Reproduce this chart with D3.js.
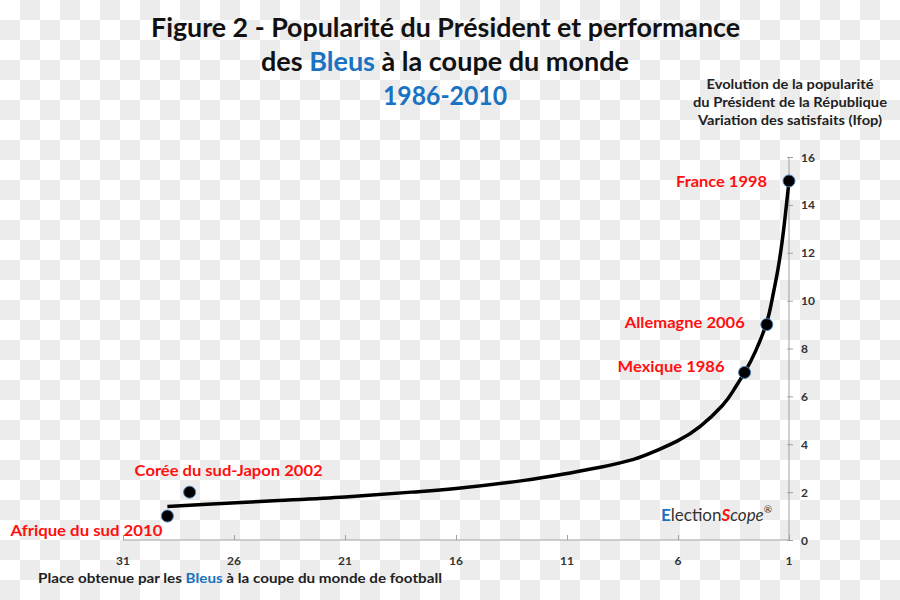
<!DOCTYPE html>
<html><head><meta charset="utf-8">
<script src="https://cdn.jsdelivr.net/npm/d3@7"></script>
<style>body{margin:0;background:#fff}svg{display:block}text{font-family:Lato,"Open Sans",sans-serif}</style>
</head><body>
<svg id="c" width="900" height="600"></svg>
<script>
// Data
const places = [1, 2, 3, 28, 29];
const popularity = [15, 9, 7, 2, 1];
const labels = ["France 1998", "Allemagne 2006", "Mexique 1986", "Corée du sud-Japon 2002", "Afrique du sud 2010"];
// trend curve
const trendX = [29, 27, 24, 21, 18, 16, 13, 11, 9.5, 8, 7, 6, 5, 4, 3.5, 3, 2.5, 2, 1.75, 1.5, 1.25, 1];
const trendY = [1.4, 1.5, 1.65, 1.8, 2.0, 2.15, 2.48, 2.78, 3.04, 3.37, 3.72, 4.15, 4.75, 5.62, 6.25, 7.0, 7.9, 9.1, 10.1, 11.3, 12.9, 15];
const xTicks = [31, 26, 21, 16, 11, 6, 1];
const yTicks = [0, 2, 4, 6, 8, 10, 12, 14, 16];

const svg = d3.select("#c");
// checkerboard background (transparent png look)
const defs = svg.append("defs");
const pat = defs.append("pattern").attr("id","chk").attr("width",40).attr("height",40).attr("patternUnits","userSpaceOnUse");
pat.append("rect").attr("width",40).attr("height",40).attr("fill","#ffffff");
pat.append("rect").attr("x",20).attr("y",0).attr("width",20).attr("height",20).attr("fill","#ececec");
pat.append("rect").attr("x",0).attr("y",20).attr("width",20).attr("height",20).attr("fill","#ececec");
svg.append("rect").attr("width",900).attr("height",600).attr("fill","url(#chk)");

const x = d3.scaleLinear().domain([31, 1]).range([123, 789]);
const y = d3.scaleLinear().domain([0, 16]).range([540, 157]);

// Titles
function fitText(sel, w){ sel.attr("textLength", w).attr("lengthAdjust","spacingAndGlyphs"); return sel; }
const t1 = svg.append("text").attr("x",445.5).attr("y",37).attr("text-anchor","middle")
  .attr("font-size",26).attr("font-weight","bold").attr("fill","#111").text("Figure 2 - Popularité du Président et performance");
fitText(t1, 589);
const t2 = svg.append("text").attr("x",445).attr("y",71).attr("text-anchor","middle")
  .attr("font-size",26).attr("font-weight","bold").attr("fill","#111");
t2.append("tspan").text("des ");
t2.append("tspan").attr("fill","#1a73c2").text("Bleus");
t2.append("tspan").text(" à la coupe du monde");
fitText(t2, 368);
const t3 = svg.append("text").attr("x",445).attr("y",105).attr("text-anchor","middle")
  .attr("font-size",26).attr("font-weight","bold").attr("fill","#1a73c2").text("1986-2010");
fitText(t3, 124);

// Right header
const hdr = [["Evolution de la popularité",167],["du Président de la République",194],["Variation des satisfaits (Ifop)",184]];
hdr.forEach((h,i)=>{
  fitText(svg.append("text").attr("x",790).attr("y",89+i*18).attr("text-anchor","middle")
    .attr("font-size",13).attr("font-weight","bold").attr("fill","#222").text(h[0]), h[1]);
});

// Axes
const gx = svg.append("g").attr("transform","translate(0,540)")
  .call(d3.axisTop(x).tickValues(xTicks).tickSize(5).tickFormat(""));
gx.selectAll("path,line").attr("stroke","#a0a0a0");
gx.select(".domain").attr("d","M123,0H789");
svg.append("g").selectAll("text").data(xTicks).join("text")
  .attr("x",d=>x(d)).attr("y",565).attr("text-anchor","middle")
  .attr("font-size",12).attr("font-weight","bold").attr("fill","#333").text(d=>d);

const gy = svg.append("g").attr("transform","translate(789,0)")
  .call(d3.axisRight(y).tickValues(yTicks).tickSize(4).tickFormat(""));
gy.selectAll("path,line").attr("stroke","#a0a0a0");
gy.select(".domain").attr("d","M0,157V540");
gy.selectAll(".tick line").attr("x1",-2);
svg.append("g").selectAll("text").data(yTicks).join("text")
  .attr("x",801).attr("y",d=>y(d)+4.5).attr("text-anchor","start")
  .attr("font-size",12).attr("font-weight","bold").attr("fill","#333").text(d=>d);

// X axis title
const xt = svg.append("text").attr("x",38).attr("y",583).attr("font-size",14).attr("font-weight","bold").attr("fill","#222");
xt.append("tspan").text("Place obtenue par les ");
xt.append("tspan").attr("fill","#1a73c2").text("Bleus");
xt.append("tspan").text(" à la coupe du monde de football");
fitText(xt, 404);

// Trend line
const trend = trendX.map((d,i)=>({x:d,y:trendY[i]}));
svg.append("path").datum(trend)
  .attr("d", d3.line().x(d=>x(d.x)).y(d=>y(d.y)).curve(d3.curveNatural))
  .attr("fill","none").attr("stroke","#000").attr("stroke-width",3.5);

// Points
const pts = places.map((p,i)=>({x:p,y:popularity[i],label:labels[i]}));
svg.append("g").selectAll("circle").data(pts).join("circle")
  .attr("cx",d=>x(d.x)).attr("cy",d=>y(d.y)).attr("r",6)
  .attr("fill","#000").attr("stroke","#4a7fb8").attr("stroke-width",1);

// Point labels
const lab = [
  {dx:-22, dy:6, anchor:"end", w:91},
  {dx:-22, dy:3, anchor:"end", w:120},
  {dx:-20, dy:0, anchor:"end", w:107},
  {dx:-55, dy:-16, anchor:"start", w:188},
  {dx:-5, dy:20, anchor:"end", w:152}
];
svg.append("g").selectAll("text").data(pts).join("text")
  .attr("x",(d,i)=>x(d.x)+lab[i].dx).attr("y",(d,i)=>y(d.y)+lab[i].dy)
  .attr("text-anchor",(d,i)=>lab[i].anchor)
  .attr("font-size",16).attr("font-weight","bold").attr("fill","#ff1010")
  .attr("textLength",(d,i)=>lab[i].w).attr("lengthAdjust","spacingAndGlyphs")
  .text(d=>d.label);

// ElectionScope logo
const lg = svg.append("text").attr("x",661).attr("y",521).attr("font-size",17).attr("fill","#333");
lg.append("tspan").attr("fill","#1a73c2").attr("font-weight","bold").text("E");
lg.append("tspan").text("lection");
lg.append("tspan").attr("fill","#ff1010").attr("font-style","italic").attr("font-weight","bold").text("S");
lg.append("tspan").attr("font-style","italic").text("cope");
lg.append("tspan").attr("font-size",10).attr("dy",-8).text("®");
</script>
</body></html>
